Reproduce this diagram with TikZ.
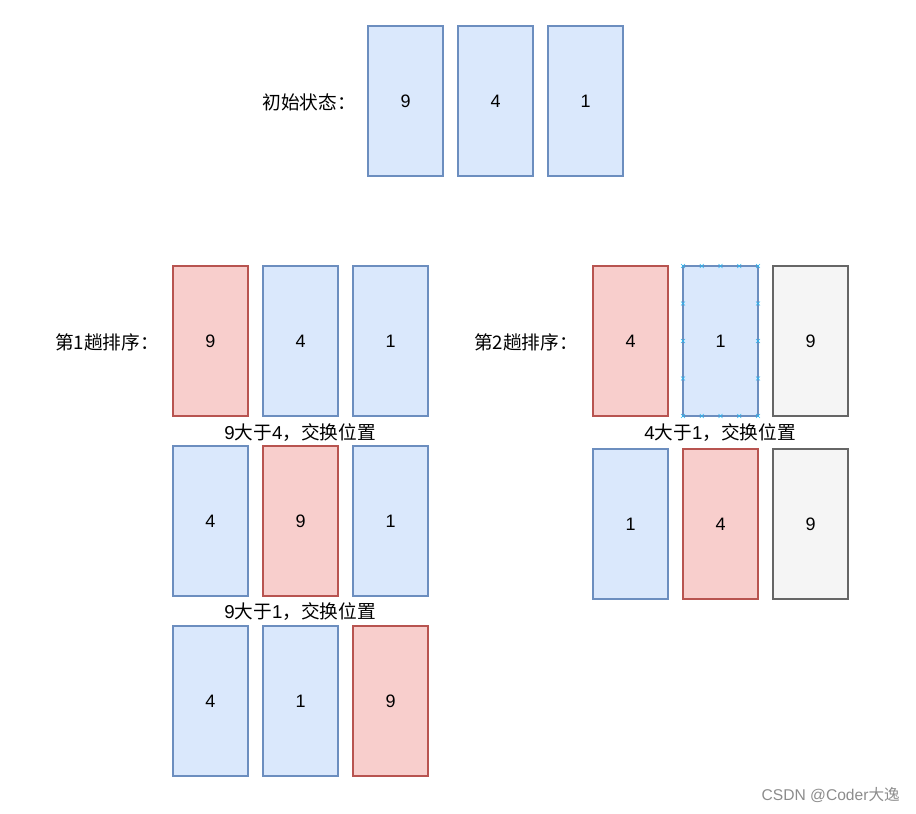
\documentclass[tikz,border=0pt]{standalone}
\usepackage{fontspec}
\setmainfont{Liberation Sans}
\newfontfamily\cjk{Noto Sans CJK SC}
\begin{document}
\begin{tikzpicture}[x=0.75pt,y=-0.75pt,
  cell/.style={draw, line width=0.9pt, minimum width=56.25pt, minimum height=112.5pt, inner sep=0pt, font=\fontsize{13.5}{16}\selectfont},
  bluebox/.style={cell, fill=bfill, draw=bdraw},
  redbox/.style={cell, fill=rfill, draw=rdraw},
  graybox/.style={cell, fill=gfill, draw=gdraw},
  lbl/.style={inner sep=0pt, font=\fontsize{14}{16}\selectfont},
  handle/.style={draw=hcol, line width=0.5pt}
]
\definecolor{bfill}{HTML}{DAE8FC}\definecolor{bdraw}{HTML}{6C8EBF}
\definecolor{rfill}{HTML}{F8CECC}\definecolor{rdraw}{HTML}{B85450}
\definecolor{gfill}{HTML}{F5F5F5}\definecolor{gdraw}{HTML}{666666}
\definecolor{hcol}{HTML}{29B6F2}
\useasboundingbox (0,0) rectangle (916,813);
% initial
\node[lbl] (l0) at (309,102) {\cjk 初始状态：};
\node[bluebox] (a1) at (405.5,101) {9};
\node[bluebox] (a2) at (495.5,101) {4};
\node[bluebox] (a3) at (585.5,101) {1};
% pass 1
\node[lbl] (l1) at (107,342) {\cjk 第1趟排序：};
\node[redbox] (b1) at (210.5,341) {9};
\node[bluebox] (b2) at (300.5,341) {4};
\node[bluebox] (b3) at (390.5,341) {1};
\node[lbl] (t1) at (300,433) {9{\cjk 大于}4{\cjk ，交换位置}};
\node[bluebox] (c1) at (210.5,521) {4};
\node[redbox] (c2) at (300.5,521) {9};
\node[bluebox] (c3) at (390.5,521) {1};
\node[lbl] (t2) at (300,612) {9{\cjk 大于}1{\cjk ，交换位置}};
\node[bluebox] (d1) at (210.5,701) {4};
\node[bluebox] (d2) at (300.5,701) {1};
\node[redbox] (d3) at (390.5,701) {9};
% pass 2
\node[lbl] (l2) at (526,342) {\cjk 第2趟排序：};
\node[redbox] (e1) at (630.5,341) {4};
\node[bluebox] (e2) at (720.5,341) {1};
\node[graybox] (e3) at (810.5,341) {9};
\node[lbl] (t3) at (720,433) {4{\cjk 大于}1{\cjk ，交换位置}};
\node[bluebox] (f1) at (630.5,524) {1};
\node[redbox] (f2) at (720.5,524) {4};
\node[graybox] (f3) at (810.5,524) {9};
% selection handles
\foreach \hx in {683,701.75,720.5,739.25,758}{
  \draw[handle] (\hx-2,264) -- (\hx+2,268) (\hx-2,268) -- (\hx+2,264);
  \draw[handle] (\hx-2,414) -- (\hx+2,418) (\hx-2,418) -- (\hx+2,414);
}
\foreach \hy in {303.5,341,378.5}{
  \draw[handle] (681,\hy-2) -- (685,\hy+2) (681,\hy+2) -- (685,\hy-2);
  \draw[handle] (756,\hy-2) -- (760,\hy+2) (756,\hy+2) -- (760,\hy-2);
}
% watermark
\node[inner sep=0pt, anchor=east, text=black!45, font=\fontsize{11.7}{14}\selectfont] (wm) at (900,795) {CSDN @Coder{\cjk 大逸}};
\end{tikzpicture}
\end{document}
